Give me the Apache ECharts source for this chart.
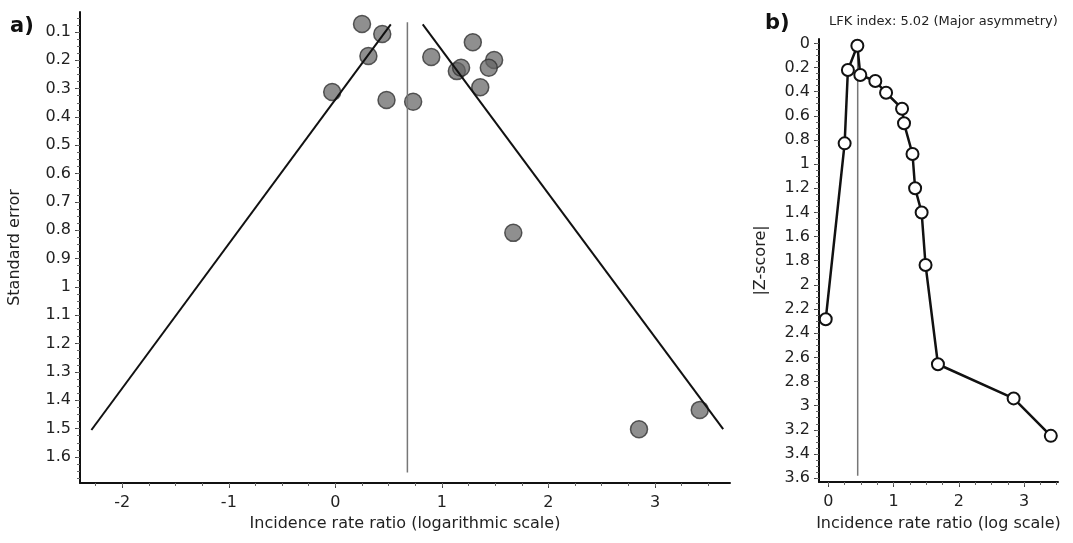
<!DOCTYPE html>
<html>
<head>
<meta charset="utf-8">
<script src="https://cdn.jsdelivr.net/npm/echarts@6/dist/echarts.min.js"></script>
<style>
html, body { margin: 0; padding: 0; background: #fff; }
#main { width: 1073px; height: 543px; }
</style>
</head>
<body>
<div id="main"></div>
<script>
// funnel plot (a): log incidence rate ratio vs standard error
var logIRR = [0.25, 0.44, 0.31, -0.03, 0.48, 0.73, 0.90, 1.29, 1.14, 1.18, 1.49, 1.44, 1.36, 1.67, 2.85, 3.42];
var stdErr = [0.072, 0.107, 0.185, 0.312, 0.340, 0.346, 0.188, 0.136, 0.238, 0.226, 0.199, 0.226, 0.295, 0.809, 1.502, 1.434];
var funnelLeft = [[0.52, 0.073], [-2.29, 1.505]];
var funnelRight = [[0.82, 0.073], [3.64, 1.502]];
var pooledLine = [[0.676, 0.066], [0.676, 1.655]];

// Doi plot (b): log IRR vs |Z-score|
var doiX = [-0.04, 0.25, 0.30, 0.445, 0.49, 0.72, 0.885, 1.13, 1.16, 1.29, 1.33, 1.43, 1.49, 1.68, 2.84, 3.41];
var doiZ = [2.285, 0.828, 0.221, 0.02, 0.262, 0.312, 0.409, 0.541, 0.662, 0.916, 1.20, 1.40, 1.835, 2.657, 2.94, 3.25];
var doiLine = [[0.45, 0.02], [0.45, 3.58]];

// tick labels
var seTicks = [0.1, 0.2, 0.3, 0.4, 0.5, 0.6, 0.7, 0.8, 0.9, 1, 1.1, 1.2, 1.3, 1.4, 1.5, 1.6];
var irrTicks = [-2, -1, 0, 1, 2, 3];
var zTicks = [0, 0.2, 0.4, 0.6, 0.8, 1, 1.2, 1.4, 1.6, 1.8, 2, 2.2, 2.4, 2.6, 2.8, 3, 3.2, 3.4, 3.6];
var doiXTicks = [0, 1, 2, 3];

function steps(a, b, s) {
    var out = [];
    for (var v = a; v <= b + 1e-9; v += s) out.push(Math.round(v * 1000) / 1000);
    return out;
}

var font = 'DejaVu Sans';
var txt = '#222';

function mainAxis(grid, pos, min, max, ticks, extra) {
    var ax = {
        type: 'value', gridIndex: grid, position: pos, min: min, max: max,
        axisLine: { show: true, onZero: false, lineStyle: { color: '#111', width: 2 } },
        axisTick: { show: true, customValues: ticks, length: 5, lineStyle: { color: '#444', width: 1 } },
        axisLabel: { customValues: ticks, color: txt, fontFamily: font, fontSize: 16 },
        splitLine: { show: false },
        nameLocation: 'middle',
        nameTextStyle: { color: txt, fontFamily: font, fontSize: 16 }
    };
    for (var k in extra) ax[k] = extra[k];
    return ax;
}
function minorAxis(grid, pos, min, max, ticks, extra) {
    var ax = {
        type: 'value', gridIndex: grid, position: pos, min: min, max: max,
        axisLine: { show: false, onZero: false },
        axisTick: { show: true, customValues: ticks, length: 3, lineStyle: { color: '#666', width: 1 } },
        axisLabel: { show: false },
        splitLine: { show: false }
    };
    for (var k in extra) ax[k] = extra[k];
    return ax;
}

var chart = echarts.init(document.getElementById('main'));

var scatterData = logIRR.map(function (x, i) { return [x, stdErr[i]]; });
var doiData = doiX.map(function (x, i) { return [x, doiZ[i]]; });

chart.setOption({
    animation: false,
    grid: [
        { left: 80, top: 12, width: 650, height: 471, outerBoundsMode: 'none' },
        { left: 819, top: 39, width: 239, height: 443, outerBoundsMode: 'none' }
    ],
    xAxis: [
        mainAxis(0, 'bottom', -2.397, 3.704, irrTicks, {
            name: 'Incidence rate ratio (logarithmic scale)', nameGap: 32,
            axisLabel: { customValues: irrTicks, color: txt, fontFamily: font, fontSize: 16, margin: 12 }
        }),
        minorAxis(0, 'bottom', -2.397, 3.704, steps(-2.25, 3.5, 0.25), {}),
        mainAxis(1, 'bottom', -0.143, 3.52, doiXTicks, {
            name: 'Incidence rate ratio (log scale)', nameGap: 34,
            axisLabel: { customValues: doiXTicks, color: txt, fontFamily: font, fontSize: 16, margin: 12 }
        }),
        minorAxis(1, 'bottom', -0.143, 3.52, steps(0, 3.5, 0.25), {})
    ],
    yAxis: [
        mainAxis(0, 'left', 0.0294, 1.692, seTicks, {
            inverse: true, name: 'Standard error', nameGap: 57,
            axisLabel: { customValues: seTicks, color: txt, fontFamily: font, fontSize: 16, margin: 9 }
        }),
        minorAxis(0, 'left', 0.0294, 1.692, steps(0.05, 1.675, 0.025), { inverse: true }),
        mainAxis(1, 'left', -0.036, 3.632, zTicks, {
            inverse: true, name: '|Z-score|', nameGap: 50,
            axisLabel: { customValues: zTicks, color: txt, fontFamily: font, fontSize: 16, margin: 9 }
        }),
        minorAxis(1, 'left', -0.036, 3.632, steps(0, 3.6, 0.05), { inverse: true })
    ],
    graphic: [
        { type: 'text', left: 10, top: 16, style: { text: 'a)', font: 'bold 21px "DejaVu Sans"', fill: '#111' } },
        { type: 'text', left: 765, top: 13, style: { text: 'b)', font: 'bold 21px "DejaVu Sans"', fill: '#111' } },
        { type: 'text', left: 829, top: 15, style: { text: 'LFK index: 5.02 (Major asymmetry)', font: '13px "DejaVu Sans"', fill: txt } }
    ],
    series: [
        {
            type: 'scatter', xAxisIndex: 0, yAxisIndex: 0, data: scatterData,
            symbol: 'circle', symbolSize: 17, z: 2,
            itemStyle: { color: 'rgba(100,100,100,0.9)', borderColor: '#333', borderWidth: 1.5 }
        },
        {
            type: 'line', xAxisIndex: 0, yAxisIndex: 0, data: funnelLeft, showSymbol: false, symbol: 'none', z: 3,
            lineStyle: { color: '#111', width: 2 }
        },
        {
            type: 'line', xAxisIndex: 0, yAxisIndex: 0, data: funnelRight, showSymbol: false, symbol: 'none', z: 3,
            lineStyle: { color: '#111', width: 2 }
        },
        {
            type: 'line', xAxisIndex: 0, yAxisIndex: 0, data: pooledLine, showSymbol: false, symbol: 'none', z: 3,
            lineStyle: { color: '#777', width: 1.5 }
        },
        {
            type: 'line', xAxisIndex: 2, yAxisIndex: 2, data: doiLine, showSymbol: false, symbol: 'none', z: 1,
            lineStyle: { color: '#777', width: 1.5 }
        },
        {
            type: 'line', xAxisIndex: 2, yAxisIndex: 2, data: doiData, z: 2,
            symbol: 'circle', symbolSize: 12, showAllSymbol: true,
            lineStyle: { color: '#111', width: 2.5 },
            itemStyle: { color: '#fff', borderColor: '#111', borderWidth: 2 }
        }
    ]
});
</script>
</body>
</html>
